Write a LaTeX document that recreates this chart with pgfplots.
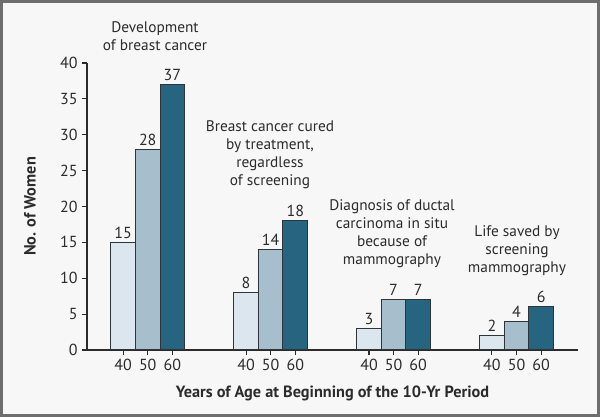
\documentclass[border=0pt]{standalone}
\usepackage{pgfplots}
\pgfplotsset{compat=1.18}
\usepackage{fontspec}
\setmainfont{PT Sans}
\definecolor{bgc}{HTML}{F7F7F7}
\definecolor{framec}{HTML}{6E6E6E}
\definecolor{axisc}{HTML}{2B2B2B}
\definecolor{edgec}{HTML}{2E3438}
\definecolor{cforty}{HTML}{DCE6EE}
\definecolor{cfifty}{HTML}{A7BFCD}
\definecolor{csixty}{HTML}{26647F}
\newcommand{\lbl}{\fontsize{11.5pt}{13.5pt}\selectfont}
\newcommand{\tck}{\fontsize{12pt}{14pt}\selectfont}
\newcommand{\ttl}{\fontsize{12.2pt}{14pt}\selectfont\bfseries}
\begin{document}
\begin{tikzpicture}[x=0.75pt,y=0.75pt]
% frame and background
\fill[bgc] (0,0) rectangle (600,417);
\draw[framec, line width=2.25pt] (1.5,1.5) rectangle (598.5,415.5);
\begin{axis}[
    at={(65.25pt,50.25pt)}, anchor=south west,
    scale only axis, width=368.25pt, height=215.25pt,
    xmin=-1.47, xmax=18.5, ymin=0, ymax=40,
    axis lines*=left,
    axis line style={-, line width=0.8pt, color=axisc},
    tick style={line width=0.8pt, color=axisc},
    tick align=outside, major tick length=3.5pt,
    ytick={0,5,...,40},
    xtick={0,1,2,5,6,7,10,11,12,15,16,17},
    xticklabels={40,50,60,40,50,60,40,50,60,40,50,60},
    ticklabel style={font=\tck, text=axisc},
    /pgf/number format/assume math mode=true,
    ylabel={No. of Women},
    xlabel={Years of Age at Beginning of the 10-Yr Period},
    label style={font=\ttl, text=axisc},
    ylabel style={at={(axis description cs:-0.116,0.5)}, anchor=center},
    xlabel style={at={(axis description cs:0.5,-0.15)}, anchor=center},
    ybar, bar width=1, bar shift=0pt,
    nodes near coords,
    nodes near coords style={font=\tck, text=axisc, anchor=south, inner sep=2.5pt},
    clip=false,
]
\addplot[fill=cforty, draw=edgec, line width=0.75pt] coordinates {(0,15) (5,8) (10,3) (15,2)};
\addplot[fill=cfifty, draw=edgec, line width=0.75pt] coordinates {(1,28) (6,14) (11,7) (16,4)};
\addplot[fill=csixty, draw=edgec, line width=0.75pt] coordinates {(2,37) (7,18) (12,7) (17,6)};
\end{axis}
% group annotations
\node[font=\lbl, text=axisc, align=center] at (155,381) {Development\\of breast cancer};
\node[font=\lbl, text=axisc, align=center] at (270,262) {Breast cancer cured\\by treatment,\\regardless\\of screening};
\node[font=\lbl, text=axisc, align=center] at (392,183.5) {Diagnosis of ductal\\carcinoma in situ\\because of\\mammography};
\node[font=\lbl, text=axisc, align=center] at (517,166) {Life saved by\\screening\\mammography};
\end{tikzpicture}
\end{document}
